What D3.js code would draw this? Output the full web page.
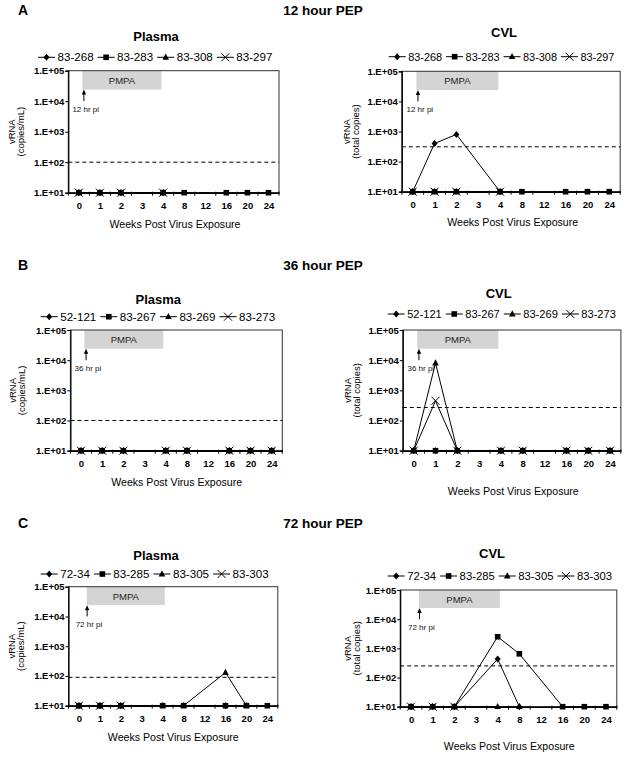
<!DOCTYPE html>
<html>
<head>
<meta charset="utf-8">
<script src="https://cdn.jsdelivr.net/npm/d3@7"></script>
<style>
  body { margin: 0; background: #fff; }
  svg { font-family: Arial, "Liberation Sans", sans-serif; }
</style>
</head>
<body>
<div id="chart"></div>
<script>
// week categories on the x axis
const weeks = ['0', '1', '2', '3', '4', '8', '12', '16', '20', '24'];
const yTicks = [1e1, 1e2, 1e3, 1e4, 1e5];
const yTickLabels = ['1.E+01', '1.E+02', '1.E+03', '1.E+04', '1.E+05'];
const markerTypes = ['diamond', 'square', 'triangle', 'cross'];

// animal ids per group
const idsA = ['83-268', '83-283', '83-308', '83-297'];
const idsB = ['52-121', '83-267', '83-269', '83-273'];
const idsC = ['72-34', '83-285', '83-305', '83-303'];

// vRNA values, one row per animal, aligned with weeks (null = not shown)
const plasmaA = [
  [10, 10, 10, null, 10, null, null, null, null, null],
  [10, 10, 10, null, 10, 10, null, 10, 10, 10],
  [10, 10, 10, null, 10, null, null, null, null, null],
  [10, 10, 10, null, 10, null, null, null, null, null],
];
const cvlA = [
  [10, 400, 800, null, 10, null, null, null, null, null],
  [10, 10, 10, null, 10, 10, null, 10, 10, 10],
  [10, 10, 10, null, 10, null, null, null, null, null],
  [10, 10, 10, null, 10, null, null, null, null, null],
];
const plasmaB = [
  [10, 10, 10, null, 10, 10, null, 10, 10, 10],
  [10, 10, 10, null, 10, 10, null, 10, 10, 10],
  [10, 10, 10, null, 10, 10, null, 10, 10, 10],
  [10, 10, 10, null, 10, 10, null, 10, 10, 10],
];
const cvlB = [
  [10, 10, 10, null, 10, 10, null, 10, 10, 10],
  [10, 10, 10, null, 10, 10, null, 10, 10, 10],
  [10, 8000, 10, null, 10, 10, null, 10, 10, 10],
  [10, 450, 10, null, 10, 10, null, 10, 10, 10],
];
const plasmaC = [
  [10, 10, 10, null, null, null, null, 10, null, null],
  [10, 10, 10, null, 10, 10, null, 10, 10, 10],
  [10, 10, 10, null, 10, 10, null, 130, 10, null],
  [10, 10, 10, null, null, null, null, null, null, null],
];
const cvlC = [
  [10, 10, 10, null, 430, 10, null, null, null, null],
  [10, 10, 10, null, 2500, 650, null, 10, 10, 10],
  [10, 10, 10, null, 10, 10, null, null, null, null],
  [10, 10, 10, null, null, null, null, null, null, null],
];

// detection limits
const cutoffs = { plasmaA: 100, cvlA: 310, plasmaB: 100, cvlB: 270, plasmaC: 90, cvlC: 250 };
// PMPA treatment window in category-index units, and arrow position
const pmpaA = [0.17, 3.92], pmpaB = [0.16, 3.88], pmpaC = [0.37, 4.1];
const arrowA = 0.24, arrowB = 0.24, arrowC = 0.39;

const svg = d3.select('#chart').append('svg')
  .attr('width', 632).attr('height', 760);

// group headers
const headers = [
  { letter: 'A', text: '12 hour PEP', y: 15 },
  { letter: 'B', text: '36 hour PEP', y: 270 },
  { letter: 'C', text: '72 hour PEP', y: 528 },
];
headers.forEach((h) => {
  svg.append('text').attr('x', 18).attr('y', h.y)
    .attr('font-size', 14).attr('font-weight', 'bold').text(h.letter);
  svg.append('text').attr('x', 323).attr('y', h.y).attr('text-anchor', 'middle')
    .attr('font-size', 13.5).attr('font-weight', 'bold').text(h.text);
});

const panels = [
  { name: 'Plasma', ids: idsA, values: plasmaA, cutoff: cutoffs.plasmaA, pmpa: pmpaA, arrow: arrowA, pi: '12 hr pi',
    x0: 68.3, x1: 279, y0: 70.7, y1: 192.7, tx: 156, ty: 41, lx: 38, ly: 57.3, lf: 11.6,
    yt: '(copies/mL)', ytx: 11.7, xtx: 175, xty: 228 },
  { name: 'CVL', ids: idsA, values: cvlA, cutoff: cutoffs.cvlA, pmpa: pmpaA, arrow: arrowA, pi: '12 hr pi',
    x0: 401.8, x1: 620.2, y0: 71.3, y1: 191.7, tx: 504, ty: 37, lx: 388.7, ly: 56.7, lf: 10.9,
    yt: '(total copies)', ytx: 346, xtx: 512.7, xty: 225.7 },
  { name: 'Plasma', ids: idsB, values: plasmaB, cutoff: cutoffs.plasmaB, pmpa: pmpaB, arrow: arrowB, pi: '36 hr pi',
    x0: 70.4, x1: 282.3, y0: 330, y1: 450.7, tx: 158.3, ty: 303.5, lx: 40.7, ly: 316.7, lf: 11.6,
    yt: '(copies/mL)', ytx: 12, xtx: 176.7, xty: 485.7 },
  { name: 'CVL', ids: idsB, values: cvlB, cutoff: cutoffs.cvlB, pmpa: pmpaB, arrow: arrowB, pi: '36 hr pi',
    x0: 402.8, x1: 620.9, y0: 330, y1: 450.7, tx: 498.7, ty: 298, lx: 387.7, ly: 314, lf: 11.1,
    yt: '(total copies)', ytx: 347.7, xtx: 513.3, xty: 494.7 },
  { name: 'Plasma', ids: idsC, values: plasmaC, cutoff: cutoffs.plasmaC, pmpa: pmpaC, arrow: arrowC, pi: '72 hr pi',
    x0: 68.5, x1: 277.8, y0: 586.7, y1: 705.7, tx: 156, ty: 560, lx: 40.7, ly: 574, lf: 11.6,
    yt: '(copies/mL)', ytx: 11.7, xtx: 173.3, xty: 741.3 },
  { name: 'CVL', ids: idsC, values: cvlC, cutoff: cutoffs.cvlC, pmpa: pmpaC, arrow: arrowC, pi: '72 hr pi',
    x0: 400.2, x1: 616.8, y0: 590, y1: 706.7, tx: 492, ty: 558, lx: 387.7, ly: 576, lf: 11.3,
    yt: '(total copies)', ytx: 347.7, xtx: 509.3, xty: 750 },
];

// marker drawing
function marker(g, type, x, y) {
  if (type === 'diamond') {
    g.append('path').attr('d', `M${x},${y - 3.5}L${x + 3},${y}L${x},${y + 3.5}L${x - 3},${y}Z`).attr('fill', '#000');
  } else if (type === 'square') {
    g.append('rect').attr('x', x - 2.8).attr('y', y - 2.8).attr('width', 5.6).attr('height', 5.6).attr('fill', '#000');
  } else if (type === 'triangle') {
    g.append('path').attr('d', `M${x},${y - 3.8}L${x + 3.3},${y + 2.4}L${x - 3.3},${y + 2.4}Z`).attr('fill', '#000');
  } else {
    g.append('path').attr('d', `M${x - 4},${y - 4}L${x + 4},${y + 4}M${x + 4},${y - 4}L${x - 4},${y + 4}`)
      .attr('stroke', '#000').attr('stroke-width', 1).attr('fill', 'none');
  }
}

panels.forEach((p) => {
  const g = svg.append('g');
  const x = d3.scalePoint().domain(weeks).range([p.x0, p.x1]).padding(0.5);
  const xi = d3.scaleLinear().domain([-0.5, weeks.length - 0.5]).range([p.x0, p.x1]);
  const y = d3.scaleLog().domain([1e1, 1e5]).range([p.y1, p.y0]);

  // PMPA box
  g.append('rect')
    .attr('x', xi(p.pmpa[0])).attr('y', y(1e5))
    .attr('width', xi(p.pmpa[1]) - xi(p.pmpa[0]))
    .attr('height', y(24000) - y(1e5))
    .attr('fill', '#d4d4d4');
  g.append('text')
    .attr('x', (xi(p.pmpa[0]) + xi(p.pmpa[1])) / 2).attr('y', y(1e5) + 13)
    .attr('text-anchor', 'middle').attr('font-size', 9.5).attr('fill', '#222').text('PMPA');

  // arrow + infection time label
  const ax = xi(p.arrow);
  g.append('line').attr('x1', ax).attr('x2', ax).attr('y1', y(1e4)).attr('y2', y(24000) + 3)
    .attr('stroke', '#000').attr('stroke-width', 1);
  g.append('path').attr('d', `M${ax},${y(24000)}L${ax + 2.2},${y(24000) + 5}L${ax - 2.2},${y(24000) + 5}Z`).attr('fill', '#000');
  g.append('text').attr('x', ax - 11.5).attr('y', y(5500) + 3)
    .attr('font-size', 8).attr('fill', '#111').text(p.pi);

  // frame
  g.append('rect').attr('x', p.x0).attr('y', p.y0)
    .attr('width', p.x1 - p.x0).attr('height', p.y1 - p.y0)
    .attr('fill', 'none').attr('stroke', '#333').attr('stroke-width', 1);

  // dashed detection limit
  g.append('line').attr('x1', p.x0).attr('x2', p.x1)
    .attr('y1', y(p.cutoff)).attr('y2', y(p.cutoff))
    .attr('stroke', '#000').attr('stroke-width', 1).attr('stroke-dasharray', '4,3');

  // y axis
  const yAxis = g.append('g').attr('transform', `translate(${p.x0},0)`)
    .call(d3.axisLeft(y).tickValues(yTicks).tickSize(3).tickPadding(1)
      .tickFormat((d, i) => yTickLabels[i]));
  yAxis.select('.domain').attr('stroke', '#000').attr('stroke-width', 1.2);
  yAxis.selectAll('text').attr('font-size', 9.5).attr('font-weight', 'bold')
    .attr('font-family', 'Arial, "Liberation Sans", sans-serif').attr('fill', '#000');

  // x axis: labels at categories, ticks between them
  const xAxis = g.append('g').attr('transform', `translate(0,${p.y1})`)
    .call(d3.axisBottom(x).tickSize(0).tickPadding(10));
  xAxis.select('.domain').attr('stroke', '#000').attr('stroke-width', 1.6);
  xAxis.selectAll('text').attr('font-size', 9.5).attr('font-weight', 'bold')
    .attr('font-family', 'Arial, "Liberation Sans", sans-serif').attr('fill', '#000');
  d3.range(weeks.length + 1).forEach((i) => {
    g.append('line').attr('x1', xi(i - 0.5)).attr('x2', xi(i - 0.5))
      .attr('y1', p.y1 - 1).attr('y2', p.y1 + 3).attr('stroke', '#000');
  });

  // series lines and markers
  p.values.forEach((row, s) => {
    const pts = row.map((v, i) => ({ w: weeks[i], v })).filter((d) => d.v !== null);
    g.append('path').datum(pts)
      .attr('d', d3.line().x((d) => x(d.w)).y((d) => y(d.v)))
      .attr('fill', 'none').attr('stroke', '#000').attr('stroke-width', 1);
    pts.forEach((d) => marker(g, markerTypes[s], x(d.w), y(d.v)));
  });

  // panel title
  g.append('text').attr('x', p.tx).attr('y', p.ty).attr('text-anchor', 'middle')
    .attr('font-size', 13).attr('font-weight', 'bold').text(p.name);

  // legend
  let lx = p.lx;
  p.ids.forEach((id, s) => {
    g.append('line').attr('x1', lx).attr('x2', lx + 17).attr('y1', p.ly).attr('y2', p.ly)
      .attr('stroke', '#000').attr('stroke-width', 1);
    marker(g, markerTypes[s], lx + 8.5, p.ly);
    const t = g.append('text').attr('x', lx + 19.5).attr('y', p.ly + 4)
      .attr('font-size', p.lf).attr('fill', '#000').text(id);
    lx += 19.5 + t.node().getComputedTextLength() + 4;
  });

  // axis titles
  const cy = (p.y0 + p.y1) / 2;
  const yt = g.append('text').attr('transform', `translate(${p.ytx + 3.5},${cy}) rotate(-90)`)
    .attr('text-anchor', 'middle').attr('font-size', 9.5).attr('fill', '#000');
  yt.append('tspan').attr('x', 0).attr('y', 0).text('vRNA');
  yt.append('tspan').attr('x', 0).attr('y', 9).text(p.yt);
  g.append('text').attr('x', p.xtx).attr('y', p.xty).attr('text-anchor', 'middle')
    .attr('font-size', 10.6).attr('fill', '#000').text('Weeks Post Virus Exposure');
});
</script>
</body>
</html>
